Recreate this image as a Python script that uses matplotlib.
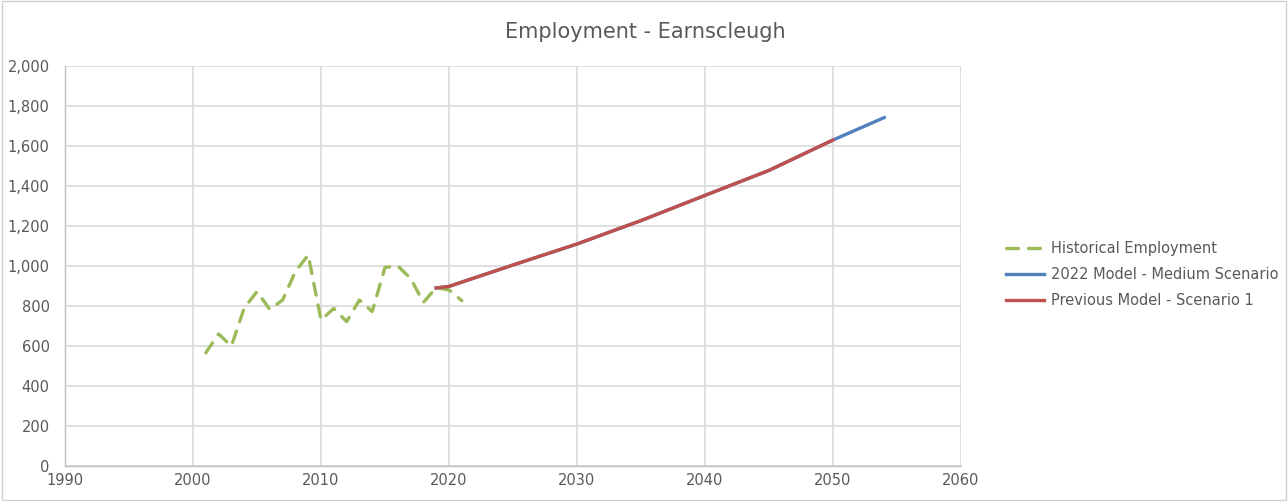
import matplotlib
matplotlib.use("Agg")
import matplotlib.pyplot as plt
from matplotlib.patches import Rectangle

# Historical employment counts
hist_years = list(range(2001, 2022))
hist_values = [566, 660, 600, 790, 872, 783, 830, 972, 1055, 730, 788,
               722, 830, 772, 993, 1000, 938, 818, 892, 880, 827]

# Projections
model_2022_years = [2019, 2020, 2025, 2030, 2035, 2040, 2045, 2050, 2054]
model_2022_values = [890, 898, 1005, 1110, 1227, 1353, 1478, 1630, 1742]

prev_model_years = [2019, 2020, 2025, 2030, 2035, 2040, 2045, 2050]
prev_model_values = [890, 898, 1005, 1110, 1227, 1353, 1478, 1630]

x_ticks = [1990, 2000, 2010, 2020, 2030, 2040, 2050, 2060]
y_ticks = list(range(0, 2001, 200))

TEXT = "#595959"
GRID = "#d9d9d9"

plt.rcParams["font.family"] = ["DejaVu Sans"]

fig = plt.figure(figsize=(12.88, 5.01), dpi=100)
fig.patches.append(Rectangle((0.0015, 0.002), 0.997, 0.996, transform=fig.transFigure,
                             fill=False, edgecolor="#d0d0d0", linewidth=1.0))

W, H = 1288, 501
ax = fig.add_axes([65 / W, 1 - 466 / H, (961 - 65) / W, (466 - 66) / H])

ax.plot(hist_years, hist_values, color="#9bbb59", linewidth=2.4,
        linestyle=(0, (3.6, 3.0)), dash_capstyle="round",
        label="Historical Employment", zorder=3)
ax.plot(model_2022_years, model_2022_values, color="#4f81bd", linewidth=2.4,
        label="2022 Model - Medium Scenario", zorder=4)
ax.plot(prev_model_years, prev_model_values, color="#c0504d", linewidth=2.4,
        label="Previous Model - Scenario 1", zorder=5)

ax.set_xlim(1990, 2060)
ax.set_ylim(0, 2000)
ax.set_xticks(x_ticks)
ax.set_yticks(y_ticks)
ax.set_yticklabels([f"{v:,}" for v in y_ticks])
ax.grid(True, color=GRID, linewidth=1.2)
ax.set_axisbelow(True)
for side in ["top", "right"]:
    ax.spines[side].set_visible(False)
for side in ["left", "bottom"]:
    ax.spines[side].set_color("#bfbfbf")
    ax.spines[side].set_linewidth(1.0)
ax.tick_params(axis="both", colors=TEXT, labelsize=10.5, length=0)
ax.tick_params(axis="y", pad=11)
ax.tick_params(axis="x", pad=5)

fig.text(645 / W, 1 - 32 / H, "Employment - Earnscleugh", ha="center", va="center",
         fontsize=15, color=TEXT)

leg = ax.legend(loc="upper left", bbox_to_anchor=(993 / W, 1 - 228 / H),
                bbox_transform=fig.transFigure, frameon=False, fontsize=10.5,
                labelcolor=TEXT, handlelength=2.6, handletextpad=0.5,
                labelspacing=0.75)

fig.savefig("out.png", dpi=100)
